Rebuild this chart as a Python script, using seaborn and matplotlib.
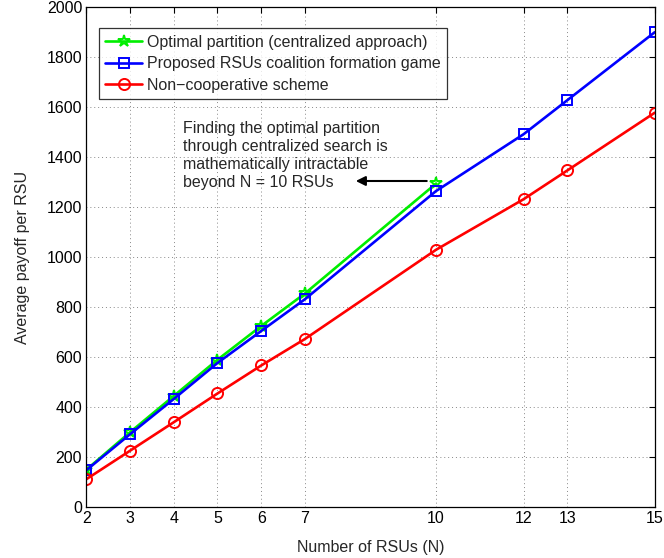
import matplotlib
matplotlib.use("Agg")
import matplotlib.pyplot as plt
import seaborn as sns
import pandas as pd

n_opt = [2, 3, 4, 5, 6, 7, 10]
opt_vals = [150, 300, 445, 590, 725, 855, 1295]
n_all = [2, 3, 4, 5, 6, 7, 10, 12, 13, 15]
prop_vals = [148, 292, 433, 577, 705, 832, 1265, 1492, 1628, 1900]
noncoop_vals = [112, 226, 340, 455, 567, 673, 1030, 1232, 1347, 1578]
x_ticks = [2, 3, 4, 5, 6, 7, 10, 12, 13, 15]
y_ticks = list(range(0, 2001, 200))

labels = ["Optimal partition (centralized approach)",
          "Proposed RSUs coalition formation game",
          "Non\u2212cooperative scheme"]

sns.set_style("white")
plt.rcParams['font.family'] = ['Liberation Sans', 'DejaVu Sans']
FS = 11.5

fig = plt.figure(figsize=(6.64, 5.58), dpi=100)
ax = fig.add_axes([0.13, 0.091, 0.856, 0.896])

df_opt = pd.DataFrame({"N": n_opt, "v": opt_vals})
df_prop = pd.DataFrame({"N": n_all, "v": prop_vals})
df_nc = pd.DataFrame({"N": n_all, "v": noncoop_vals})

sns.lineplot(data=df_opt, x="N", y="v", ax=ax, color="#00ee00", lw=1.9,
             marker="*", markersize=9, markerfacecolor="none",
             markeredgecolor="#00ee00", markeredgewidth=1.4, label=labels[0])
sns.lineplot(data=df_prop, x="N", y="v", ax=ax, color="#0000ff", lw=1.9,
             marker="s", markersize=6.5, markerfacecolor="none",
             markeredgecolor="#0000ff", markeredgewidth=1.4, label=labels[1])
sns.lineplot(data=df_nc, x="N", y="v", ax=ax, color="#ff0000", lw=1.9,
             marker="o", markersize=8, markerfacecolor="none",
             markeredgecolor="#ff0000", markeredgewidth=1.4, label=labels[2])

ax.set_xlim(2, 15)
ax.set_ylim(0, 2000)
ax.set_xticks(x_ticks)
ax.set_yticks(y_ticks)
ax.tick_params(direction="in", top=True, right=True, labelsize=FS, length=4,
               width=0.8, colors="black", pad=3)
for s in ax.spines.values():
    s.set_visible(True)
    s.set_color("black")
    s.set_linewidth(0.9)
ax.grid(True, linestyle=(0, (1, 3)), color="#888888", linewidth=0.7)
ax.set_xlabel("Number of RSUs (N)", fontsize=FS, labelpad=10)
ax.set_ylabel("Average payoff per RSU", fontsize=FS, labelpad=12)

leg = ax.legend(loc="upper left", bbox_to_anchor=(0.0225, 0.958), fontsize=FS,
                frameon=True, fancybox=False, edgecolor="black",
                handlelength=2.3, borderpad=0.4, labelspacing=0.42,
                handletextpad=0.3, borderaxespad=0.0)
leg.get_frame().set_linewidth(0.9)

ax.annotate("", xy=(8.1, 1305), xytext=(9.85, 1305),
            arrowprops=dict(arrowstyle="-|>", color="black", lw=1.5,
                            mutation_scale=14))
ax.text(4.2, 1545, "Finding the optimal partition\nthrough centralized search is\n"
        "mathematically intractable\nbeyond N = 10 RSUs",
        fontsize=FS, va="top", ha="left", linespacing=1.25)

fig.savefig("out.png", dpi=100)
